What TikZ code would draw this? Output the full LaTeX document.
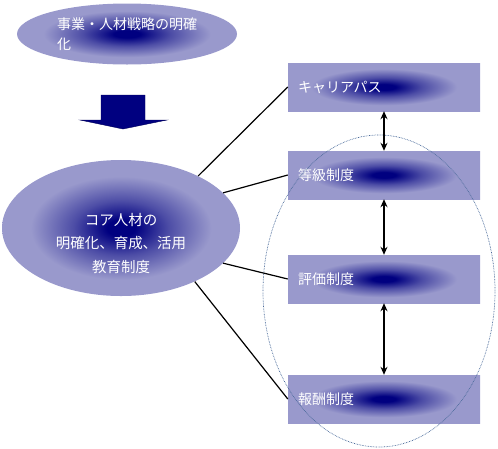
\documentclass[tikz,border=0pt]{standalone}
\usepackage{fontspec}
\setmainfont{Noto Sans CJK JP}
\usetikzlibrary{shapes.geometric,arrows.meta}

\definecolor{lavender}{HTML}{9999CC}
\definecolor{navyblue}{HTML}{000080}
\definecolor{midblue}{HTML}{4D4DA6}
\definecolor{groupline}{HTML}{4A6A9A}
\pgfdeclareradialshading{glow}{\pgfpoint{0bp}{0bp}}{color(0bp)=(navyblue);
    color(3bp)=(navyblue); color(10bp)=(midblue); color(19bp)=(lavender);
    color(50bp)=(lavender)}

\begin{document}
\begin{tikzpicture}[x=1pt,y=-1pt]
    \tikzstyle{oval} = [ellipse, shade, shading=glow, text=white, inner sep=0pt]
    \tikzstyle{rec} = [rectangle, shade, shading=glow, text=white, align=left,
        text width=172pt, inner xsep=10pt, minimum width=192pt,
        minimum height=48pt, font=\fontsize{14}{16}\selectfont]
    \tikzstyle{link} = [line width=1.2pt]
    \tikzstyle{darrow} = [{Stealth[length=8pt,width=7pt]}-{Stealth[length=8pt,width=7pt]},
        line width=1.3pt]

    \useasboundingbox (0,0) rectangle (498,448);

    \node(strategy) [oval, minimum width=220pt, minimum height=61pt,
        align=left, font=\fontsize{14}{20}\selectfont]
        at (127,34) {事業・人材戦略の明確\\化};

    \fill[navyblue, draw=navyblue!70!black] (101,95) -- (145,95) -- (145,120)
        -- (167,120) -- (123,129) -- (80,120) -- (101,120) -- cycle;

    \node(core) [oval, minimum width=238pt, minimum height=136pt]
        at (121,228) {};
    \node(coretext) [text=white, align=center,
        font=\fontsize{14.5}{23.5}\selectfont]
        at (121,243.5) {コア人材の\\明確化、育成、活用\\教育制度};

    \node(career) [rec] at (384,87) {キャリアパス};
    \node(grade) [rec] at (384,175) {等級制度};
    \node(appraisal) [rec] at (384,279) {評価制度};
    \node(reward) [rec] at (384,399) {報酬制度};

    \node(group) [ellipse, draw=groupline, line width=0.7pt,
        dash pattern=on 0.7pt off 0.9pt, minimum width=232pt,
        minimum height=312pt] at (379,291) {};

    \draw[link] (core.34) -- (career.west);
    \draw[link] (core.19) -- (grade.west);
    \draw[link] (core.-19) -- (appraisal.west);
    \draw[link] (core.-36) -- (reward.west);

    \draw[darrow] (career.south) -- (grade.north);
    \draw[darrow] (grade.south) -- (appraisal.north);
    \draw[darrow] (appraisal.south) -- (reward.north);
\end{tikzpicture}
\end{document}
